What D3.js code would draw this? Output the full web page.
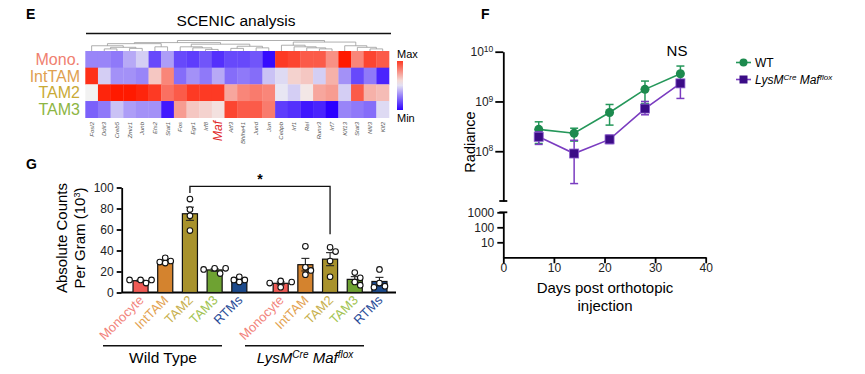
<!DOCTYPE html>
<html>
<head>
<meta charset="utf-8">
<title>SCENIC / radiance / counts</title>
<script src="https://cdn.jsdelivr.net/npm/d3@7"></script>
<style>
  body { margin: 0; background: #fff; }
  svg { font-family: "Liberation Sans", Arial, sans-serif; }
  .axis path, .axis line { stroke: #000; stroke-width: 1.8px; }
  .axis text { font-size: 12px; fill: #222; font-family: "Liberation Sans", Arial, sans-serif; }
</style>
</head>
<body>
<svg id="fig" width="865" height="374"></svg>
<script>
// ---------- data: heatmap (E) ----------
const genes = ['Fosl2','Ddit3','Creb5','Zmiz1','Junb','Ets2','Stat1','Fos','Egr1','Irf8','Maf','Atf3',
               'Bhlhe41','Jund','Jun','Cebpb','Irf1','Rel','Runx3','Irf7','Klf13','Stat3','Nfil3','Klf2'];
const cellTypes = ['Mono.','IntTAM','TAM2','TAM3'];
const scoreMono   = [-0.45,-0.45,-0.5,-0.3,-0.15,-0.7,-0.35,-0.7,-0.75,-0.65,-0.8,-0.7,-0.7,-0.65,-0.95, 0.85, 0.8, 0.7, 0.7, 0.45, 1.0, 0.5, 0.8, 0.7];
const scoreIntTAM = [ 0.9,-0.15,-0.4,-0.4,-0.45, 0.2, 0.5,-0.55,-0.4,-0.5,-0.3,-0.55,-0.5,-0.55,-0.2,-0.1, 0.15, 0.2,-0.15, 0.3,-0.4,-0.7,-0.5,-0.85];
const scoreTAM2   = [ 0.0, 0.95, 1.0, 1.0, 0.95, 0.85, 0.6, 0.7, 0.85, 0.85, 0.85, 0.35, 0.5, 0.55, 0.5,-0.05,-0.15, 0.05, 0.35, 0.4,-0.15, 0.7, 0.3, 0.25];
const scoreTAM3   = [-0.6,-0.5,-0.2,-0.35,-0.4,-0.4,-0.9, 0.4, 0.2, 0.15, 0.08, 0.8, 0.7, 0.7, 0.55,-0.75,-0.8,-0.9,-0.85,-1.0,-0.45,-0.5,-0.55,-0.1];
const scores = [scoreMono, scoreIntTAM, scoreTAM2, scoreTAM3];
const cellTypeColors = ['#f08070','#e0a050','#c9aa35','#8db543'];
// gene clustering tree (h = merge height)
const dendro = {h:1, c:[
  {h:.8, c:[
    {h:.7, c:[ {h:.5, c:['Fosl2', {h:.35, c:[{h:.2, c:['Ddit3','Creb5']}, {h:.25, c:['Zmiz1','Junb']}]}]},
               {h:.4, c:['Ets2','Stat1']} ]},
    {h:.65, c:[ {h:.4, c:['Fos', {h:.3, c:['Egr1', {h:.15, c:['Irf8','Maf']}]}]},
                {h:.45, c:[{h:.25, c:['Atf3','Bhlhe41']}, {h:.3, c:['Jund','Jun']}]} ]} ]},
  {h:.85, c:[
    {h:.55, c:['Cebpb', {h:.4, c:['Irf1', {h:.3, c:['Rel', {h:.2, c:['Runx3','Irf7']}]}]}]},
    {h:.5, c:['Klf13', {h:.35, c:['Stat3', {h:.2, c:['Nfil3','Klf2']}]}]} ]} ]};

// ---------- data: radiance (F) ----------
const days = [7, 14, 21, 28, 35];
const wtMean = [2.75e8, 2.3e8, 6.0e8, 1.75e9, 3.6e9];
const wtHi   = [3.9e8, 2.9e8, 8.7e8, 2.57e9, 5.15e9];
const wtLo   = [1.43e8, 1.6e8, 3.35e8, 9.1e8, 2.7e9];
const koMean = [1.95e8, 9.0e7, 1.73e8, 7.2e8, 2.31e9];
const koHi   = [2.45e8, 1.66e8, 2.1e8, 1.0e9, 2.7e9];
const koLo   = [1.37e8, 2.24e7, 1.43e8, 5.4e8, 1.15e9];
const upperTicks = [1e8, 1e9, 1e10];
const lowerTicks = [10, 100, 1000];
const dayTicks = [0, 10, 20, 30, 40];

// ---------- data: counts (G) ----------
const groups = ['Wild Type', 'LysM'];
const populations = ['Monocyte','IntTAM','TAM2','TAM3','RTMs'];
const barColors = ['#f05a55','#d4832e','#a8922c','#6ea232','#1c4a8c'];
const labelColors = ['#f2847c','#e3a352','#c8b04e','#a2c452','#2a4c98'];
const wtCounts = [[9,12,12,12],[28,29,30,33],[89,79,73,59],[18,22,23,23],[10,12,12,15]];
const koCounts = [[5,9,10,11],[44,24,21,17],[43,39,30,15],[19,14,10,7],[22,9,6,5]];
const countTicks = [0,20,40,60,80,100];

const svg = d3.select('#fig');
svg.append('rect').attr('width', 865).attr('height', 374).attr('fill', '#fff');

function panelLetter(t, x, y) {
  svg.append('text').attr('x', x).attr('y', y).attr('font-size', 14).attr('font-weight', 'bold').text(t);
}
panelLetter('E', 26, 19);
panelLetter('F', 481, 19);
panelLetter('G', 26, 169);

// ================= E: heatmap =================
const hx = d3.scaleBand().domain(genes).range([85.3, 389]);
const hy = d3.scaleBand().domain(cellTypes).range([51, 117.7]);
const heat = d3.scaleLinear().domain([-1, 0, 1]).range(['#2c00ff', '#f2f2f2', '#ff1a00']);

svg.append('text').attr('x', 236).attr('y', 26).attr('text-anchor', 'middle')
  .attr('font-size', 15.5).text('SCENIC analysis');
svg.append('line').attr('x1', 86).attr('x2', 391).attr('y1', 33.5).attr('y2', 33.5)
  .attr('stroke', '#111').attr('stroke-width', 1.6);

const cells = [];
scores.forEach((row, i) => row.forEach((v, j) => cells.push({ct: cellTypes[i], g: genes[j], v})));
svg.append('g').selectAll('rect').data(cells).join('rect')
  .attr('x', d => hx(d.g)).attr('y', d => hy(d.ct))
  .attr('width', hx.bandwidth() + 0.3).attr('height', hy.bandwidth() + 0.3)
  .attr('fill', d => heat(d.v));

svg.append('g').selectAll('text').data(cellTypes).join('text')
  .attr('x', 80).attr('y', d => hy(d) + hy.bandwidth() / 2 + 5.5)
  .attr('text-anchor', 'end').attr('font-size', 16)
  .attr('fill', (d, i) => cellTypeColors[i]).text(d => d);

// gene labels
svg.append('g').selectAll('text').data(genes).join('text')
  .attr('transform', d => `translate(${hx(d) + hx.bandwidth() / 2 + (d === 'Maf' ? 4 : 2)},${d === 'Maf' ? 121 : 122}) rotate(-90)`)
  .attr('text-anchor', 'end')
  .attr('font-style', 'italic')
  .attr('font-size', d => d === 'Maf' ? 12 : 6)
  .attr('fill', d => d === 'Maf' ? '#e02828' : '#555')
  .text(d => d);

// dendrogram
const root = d3.hierarchy(dendro, d => (typeof d === 'string' ? null : d.c));
const dy = d3.scaleLinear().domain([0, 1]).range([51, 40.5]);
root.eachAfter(n => {
  if (!n.children) { n.px = hx(n.data) + hx.bandwidth() / 2; n.py = dy(0); }
  else { n.px = d3.mean(n.children, c => c.px); n.py = dy(n.data.h); }
});
const dg = svg.append('g').attr('stroke', '#9a9a9a').attr('stroke-width', 0.8).attr('fill', 'none');
root.descendants().filter(n => n.children).forEach(n => {
  const xs = n.children.map(c => c.px);
  dg.append('line').attr('x1', d3.min(xs)).attr('x2', d3.max(xs)).attr('y1', n.py).attr('y2', n.py);
  n.children.forEach(c => dg.append('line').attr('x1', c.px).attr('x2', c.px).attr('y1', n.py).attr('y2', c.children ? c.py : dy(0)));
});

// colour bar
const grad = svg.append('defs').append('linearGradient').attr('id', 'cbar')
  .attr('x1', 0).attr('x2', 0).attr('y1', 0).attr('y2', 1);
d3.range(0, 1.001, 0.1).forEach(t => grad.append('stop').attr('offset', t).attr('stop-color', heat(0.85 - 1.85 * t)));
svg.append('rect').attr('x', 397).attr('y', 61).attr('width', 6).attr('height', 49).attr('fill', 'url(#cbar)');
svg.append('text').attr('x', 397).attr('y', 58).attr('font-size', 11).text('Max');
svg.append('text').attr('x', 397).attr('y', 122).attr('font-size', 11).text('Min');

// ================= F: radiance =================
const fx = d3.scaleLinear().domain([0, 40]).range([503.3, 705.7]);
const yUp = d3.scaleLog().domain([1e7, 1e10]).range([201, 51.7]);
const yLow = d3.scaleLog().domain([1, 1000]).range([257.3, 212.3]);

const upAxis = svg.append('g').attr('class', 'axis').attr('transform', `translate(${fx(0)},0)`)
  .call(d3.axisLeft(yUp).tickValues(upperTicks).tickSize(8).tickSizeOuter(0).tickFormat(''));
upAxis.selectAll('.tick').each(function(d) {
  const t = d3.select(this).append('text').attr('x', -10).attr('dy', '0.32em').attr('text-anchor', 'end');
  t.append('tspan').text('10');
  t.append('tspan').attr('dy', '-0.5em').attr('font-size', 8.5).text(Math.round(Math.log10(d)));
});
svg.append('line').attr('x1', fx(0) - 4).attr('x2', fx(0) + 4).attr('y1', yUp(1e7)).attr('y2', yUp(1e7))
  .attr('stroke', '#000').attr('stroke-width', 1.8);

svg.append('g').attr('class', 'axis').attr('transform', `translate(${fx(0)},0)`)
  .call(d3.axisLeft(yLow).tickValues(lowerTicks).tickSize(6).tickSizeOuter(0).tickFormat(d3.format('d')));
svg.append('line').attr('x1', fx(0) - 4).attr('x2', fx(0) + 4).attr('y1', yLow(1000)).attr('y2', yLow(1000))
  .attr('stroke', '#000').attr('stroke-width', 1.8);

svg.append('g').attr('class', 'axis').attr('transform', `translate(0,${yLow(1)})`)
  .call(d3.axisBottom(fx).tickValues(dayTicks).tickSize(6).tickSizeOuter(0))
  .selectAll('text').attr('dy', '0.45em').attr('font-size', 12.5);

svg.append('text').attr('transform', `translate(475,142) rotate(-90)`).attr('text-anchor', 'middle')
  .attr('font-size', 14.5).text('Radiance');
svg.append('text').attr('x', 605).attr('y', 293).attr('text-anchor', 'middle').attr('font-size', 15).text('Days post orthotopic');
svg.append('text').attr('x', 605).attr('y', 311).attr('text-anchor', 'middle').attr('font-size', 15).text('injection');

const series = [
  {mean: wtMean, hi: wtHi, lo: wtLo, line: '#25975a', mark: '#1c8a4e', shape: 'circle'},
  {mean: koMean, hi: koHi, lo: koLo, line: '#7a3cc0', mark: '#3b0c86', shape: 'square'}
];
series.forEach(s => {
  const pts = days.map((d, i) => ({d, m: s.mean[i], hi: s.hi[i], lo: s.lo[i]}));
  const g = svg.append('g');
  g.append('path').datum(pts).attr('fill', 'none').attr('stroke', s.line).attr('stroke-width', 1.6)
    .attr('d', d3.line().x(p => fx(p.d)).y(p => yUp(p.m)));
  pts.forEach(p => {
    g.append('line').attr('x1', fx(p.d)).attr('x2', fx(p.d)).attr('y1', yUp(p.lo)).attr('y2', yUp(p.hi))
      .attr('stroke', s.line).attr('stroke-width', 1.5);
    [p.lo, p.hi].forEach(v => g.append('line').attr('x1', fx(p.d) - 4).attr('x2', fx(p.d) + 4)
      .attr('y1', yUp(v)).attr('y2', yUp(v)).attr('stroke', s.line).attr('stroke-width', 1.5));
  });
  if (s.shape === 'circle') {
    g.selectAll('circle').data(pts).join('circle').attr('cx', p => fx(p.d)).attr('cy', p => yUp(p.m))
      .attr('r', 4.5).attr('fill', s.mark);
  } else {
    g.selectAll('rect').data(pts).join('rect').attr('x', p => fx(p.d) - 4.5).attr('y', p => yUp(p.m) - 4.5)
      .attr('width', 9).attr('height', 9).attr('fill', s.mark).attr('stroke', '#8a5ccc').attr('stroke-width', 0.8);
  }
});
svg.append('text').attr('x', 677).attr('y', 56).attr('text-anchor', 'middle').attr('font-size', 15).text('NS');

// legend
const lg = svg.append('g');
lg.append('line').attr('x1', 736).attr('x2', 751).attr('y1', 62.5).attr('y2', 62.5).attr('stroke', series[0].line).attr('stroke-width', 1.6);
lg.append('circle').attr('cx', 743.5).attr('cy', 62.5).attr('r', 4).attr('fill', series[0].mark);
lg.append('text').attr('x', 755).attr('y', 67).attr('font-size', 12).text('WT');
lg.append('line').attr('x1', 736).attr('x2', 751).attr('y1', 79.5).attr('y2', 79.5).attr('stroke', series[1].line).attr('stroke-width', 1.6);
lg.append('rect').attr('x', 739.5).attr('y', 75.5).attr('width', 8).attr('height', 8).attr('fill', series[1].mark);
const koT = lg.append('text').attr('x', 755).attr('y', 84).attr('font-size', 12).attr('font-style', 'italic');
koT.append('tspan').text('LysM');
koT.append('tspan').attr('dy', -4).attr('font-size', 8).text('Cre');
koT.append('tspan').attr('dy', 4).text(' Maf');
koT.append('tspan').attr('dy', -4).attr('font-size', 8).text('flox');

// ================= G: counts =================
const gy = d3.scaleLinear().domain([0, 100]).range([292.5, 187.5]);
const gOuter = d3.scaleBand().domain(groups).range([128.2, 391.8]).paddingInner(0.119);
const gInner = d3.scaleBand().domain(populations).range([0, gOuter.bandwidth()]).paddingInner(0.39).paddingOuter(0.195);
const xCenter = (grp, pop) => gOuter(grp) + gInner(pop) + gInner.bandwidth() / 2;

svg.append('g').attr('class', 'axis').attr('transform', 'translate(121.7,0)')
  .call(d3.axisLeft(gy).tickValues(countTicks).tickSize(5).tickSizeOuter(0))
  .selectAll('text').attr('font-size', 13);
svg.append('line').attr('x1', 121.7).attr('x2', 396).attr('y1', gy(0)).attr('y2', gy(0))
  .attr('stroke', '#000').attr('stroke-width', 1.8);

const yt = svg.append('text').attr('transform', 'translate(67,238) rotate(-90)').attr('text-anchor', 'middle').attr('font-size', 15);
yt.append('tspan').attr('x', 0).attr('dy', 0).text('Absolute Counts');
yt.append('tspan').attr('x', 0).attr('dy', 17.5).text('Per Gram (10');
yt.append('tspan').attr('dy', -5).attr('font-size', 9).text('3');
yt.append('tspan').attr('dy', 5).text(')');

const bars = [];
[wtCounts, koCounts].forEach((set, gi) => set.forEach((vals, pi) => {
  const m = d3.mean(vals);
  const sem = d3.deviation(vals) / Math.sqrt(vals.length);
  bars.push({grp: groups[gi], pop: populations[pi], pi, vals, m, sem});
}));

const bg = svg.append('g');
bars.forEach(b => {
  const cx = xCenter(b.grp, b.pop);
  const w = gInner.bandwidth();
  bg.append('rect').attr('x', cx - w / 2).attr('y', gy(b.m)).attr('width', w).attr('height', gy(0) - gy(b.m))
    .attr('fill', barColors[b.pi]).attr('stroke', '#111').attr('stroke-width', 1.2);
  bg.append('line').attr('x1', cx).attr('x2', cx).attr('y1', gy(b.m - b.sem)).attr('y2', gy(b.m + b.sem))
    .attr('stroke', '#222').attr('stroke-width', 1.1);
  [b.m - b.sem, b.m + b.sem].forEach(v => bg.append('line').attr('x1', cx - 4).attr('x2', cx + 4)
    .attr('y1', gy(v)).attr('y2', gy(v)).attr('stroke', '#222').attr('stroke-width', 1.1));
  // simple beeswarm for the points
  const r = 2.8, placed = [];
  b.vals.slice().sort((a, c) => c - a).forEach(v => {
    const py = gy(v);
    let off = 0;
    for (const step of [0, 5.5, -5.5, 11, -11]) {
      if (placed.every(p => Math.hypot(p.x - (cx + step), p.y - py) >= 2 * r + 0.3)) { off = step; break; }
    }
    placed.push({x: cx + off, y: py});
  });
  placed.forEach(p => bg.append('circle').attr('cx', p.x).attr('cy', p.y).attr('r', r)
    .attr('fill', '#fff').attr('stroke', '#111').attr('stroke-width', 1.1));
});

// category labels
bars.forEach(b => {
  svg.append('text').attr('transform', `translate(${xCenter(b.grp, b.pop) + 4},${301}) rotate(-45)`)
    .attr('text-anchor', 'end').attr('font-size', 13).attr('fill', labelColors[b.pi]).text(b.pop);
});

// group underlines
svg.append('line').attr('x1', 103).attr('x2', 222).attr('y1', 345.7).attr('y2', 345.7).attr('stroke', '#111').attr('stroke-width', 1.6);
svg.append('line').attr('x1', 245).attr('x2', 364).attr('y1', 345.7).attr('y2', 345.7).attr('stroke', '#111').attr('stroke-width', 1.6);
svg.append('text').attr('x', 163).attr('y', 362.5).attr('text-anchor', 'middle').attr('font-size', 15.5).text('Wild Type');
const gl = svg.append('text').attr('x', 305).attr('y', 362.5).attr('text-anchor', 'middle').attr('font-size', 15).attr('font-style', 'italic');
gl.append('tspan').text('LysM');
gl.append('tspan').attr('dy', -5).attr('font-size', 10).text('Cre');
gl.append('tspan').attr('dy', 5).text(' Maf');
gl.append('tspan').attr('dy', -5).attr('font-size', 10).text('flox');

// significance bracket between TAM2 groups
const bWT = bars.find(b => b.grp === groups[0] && b.pop === 'TAM2');
const bKO = bars.find(b => b.grp === groups[1] && b.pop === 'TAM2');
const yBr = gy(101);
svg.append('path').attr('fill', 'none').attr('stroke', '#111').attr('stroke-width', 1.3)
  .attr('d', `M${xCenter(bWT.grp, 'TAM2')},${gy(d3.max(bWT.vals)) - 6}V${yBr}H${xCenter(bKO.grp, 'TAM2')}V${gy(d3.max(bKO.vals)) - 13}`);
svg.append('text').attr('x', (xCenter(bWT.grp, 'TAM2') + xCenter(bKO.grp, 'TAM2')) / 2).attr('y', 184)
  .attr('text-anchor', 'middle').attr('font-size', 14).attr('font-weight', 'bold').text('*');
</script>
</body>
</html>
